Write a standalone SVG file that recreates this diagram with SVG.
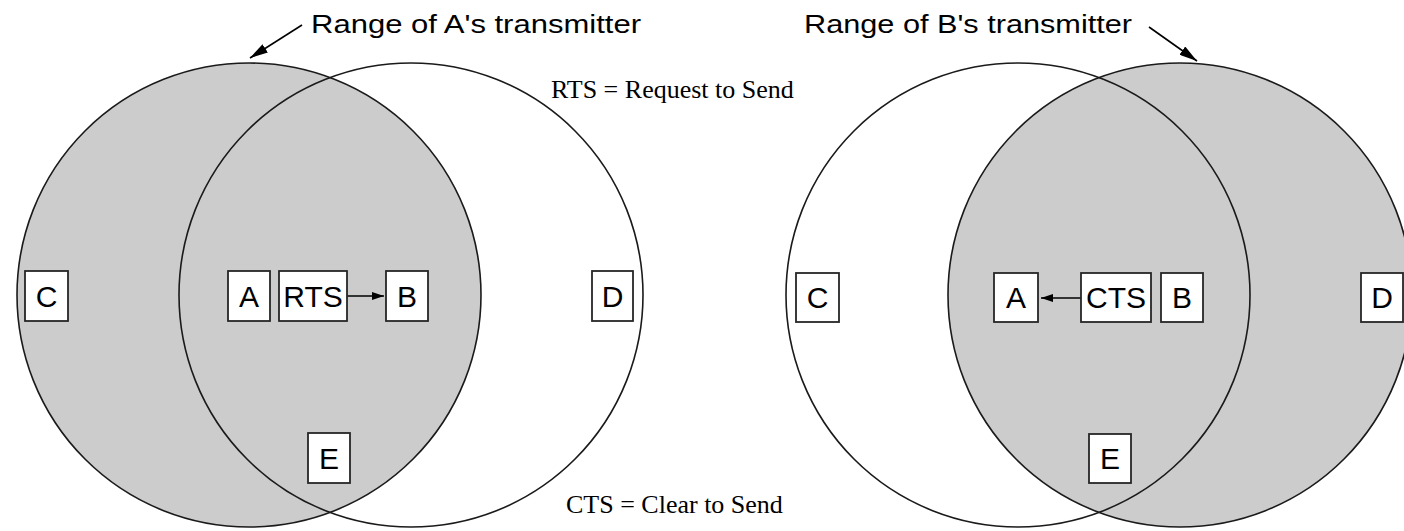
<svg xmlns="http://www.w3.org/2000/svg" width="1404" height="531" viewBox="0 0 1404 531">
  <style>
    .range { fill: #cccccc; stroke: none; }
    .edge { fill: none; stroke: #1a1a1a; stroke-width: 1.6; }
    .box { fill: #ffffff; stroke: #262626; stroke-width: 1.8; }
    .lbl { font-family: "Liberation Sans", Arial, sans-serif; font-size: 30px; fill: #000; text-anchor: middle; }
    .cap { font-family: "Liberation Sans", Arial, sans-serif; font-size: 26px; fill: #000; }
    .note { font-family: "Liberation Serif", "Times New Roman", serif; font-size: 26px; fill: #000; }
    .wire { stroke: #000; stroke-width: 1.6; fill: none; }
  </style>
  <defs>
    <marker id="head" viewBox="0 0 12 8" refX="12" refY="4" markerWidth="12" markerHeight="8" markerUnits="userSpaceOnUse" orient="auto">
      <path d="M0,0 L12,4 L0,8 Z" fill="#000"/>
    </marker>
    <marker id="bigHead" viewBox="0 0 18 10" refX="18" refY="5" markerWidth="18" markerHeight="10" markerUnits="userSpaceOnUse" orient="auto">
      <path d="M0,0 L18,5 L0,10 Z" fill="#000"/>
    </marker>
  </defs>

  <!-- Left panel: A transmits RTS -->
  <g id="rangeA">
    <circle class="range" cx="249" cy="295" r="232"/>
    <circle class="edge" cx="249" cy="295" r="232"/>
  </g>
  <g id="rangeB-left">
    <circle class="edge" cx="411" cy="295" r="232"/>
  </g>

  <!-- Right panel: B transmits CTS -->
  <g id="rangeB">
    <circle class="range" cx="1180" cy="295" r="232"/>
    <circle class="edge" cx="1180" cy="295" r="232"/>
  </g>
  <g id="rangeA-right">
    <circle class="edge" cx="1018" cy="295" r="232"/>
  </g>

  <!-- Captions -->
  <text class="cap" x="311" y="33" textLength="330" lengthAdjust="spacingAndGlyphs">Range of A's transmitter</text>
  <text class="cap" x="804" y="33" textLength="328" lengthAdjust="spacingAndGlyphs">Range of B's transmitter</text>
  <text class="note" x="551" y="98">RTS = Request to Send</text>
  <text class="note" x="566" y="513">CTS = Clear to Send</text>

  <!-- Connectors -->
  <g id="connectors">
    <line class="wire" x1="302" y1="25" x2="250" y2="58" marker-end="url(#bigHead)"/>
    <line class="wire" x1="1149" y1="27" x2="1197" y2="61" marker-end="url(#bigHead)"/>
    <line class="wire" x1="347" y1="296" x2="384" y2="296" marker-end="url(#head)"/>
    <line class="wire" x1="1081" y1="298" x2="1041" y2="298" marker-end="url(#head)"/>
  </g>

  <!-- Left panel stations -->
  <g id="nodeC1"><rect class="box" x="25" y="271" width="43" height="50"/><text class="lbl" x="46.5" y="307">C</text></g>
  <g id="nodeA1"><rect class="box" x="228" y="271" width="42" height="50"/><text class="lbl" x="249" y="307">A</text></g>
  <g id="nodeRTS"><rect class="box" x="279" y="271" width="68" height="50"/><text class="lbl" x="313" y="307">RTS</text></g>
  <g id="nodeB1"><rect class="box" x="386" y="271" width="42" height="50"/><text class="lbl" x="407" y="307">B</text></g>
  <g id="nodeD1"><rect class="box" x="592" y="271" width="41" height="50"/><text class="lbl" x="612.5" y="307">D</text></g>
  <g id="nodeE1"><rect class="box" x="308" y="433" width="42" height="50"/><text class="lbl" x="329" y="469">E</text></g>

  <!-- Right panel stations -->
  <g id="nodeC2"><rect class="box" x="796" y="273" width="43" height="49"/><text class="lbl" x="817.5" y="308">C</text></g>
  <g id="nodeA2"><rect class="box" x="994" y="273" width="44" height="49"/><text class="lbl" x="1016" y="308">A</text></g>
  <g id="nodeCTS"><rect class="box" x="1081" y="273" width="70" height="49"/><text class="lbl" x="1116" y="308">CTS</text></g>
  <g id="nodeB2"><rect class="box" x="1161" y="273" width="42" height="49"/><text class="lbl" x="1182" y="308">B</text></g>
  <g id="nodeD2"><rect class="box" x="1361" y="273" width="42" height="49"/><text class="lbl" x="1382" y="308">D</text></g>
  <g id="nodeE2"><rect class="box" x="1089" y="434" width="42" height="49"/><text class="lbl" x="1110" y="469">E</text></g>
</svg>
